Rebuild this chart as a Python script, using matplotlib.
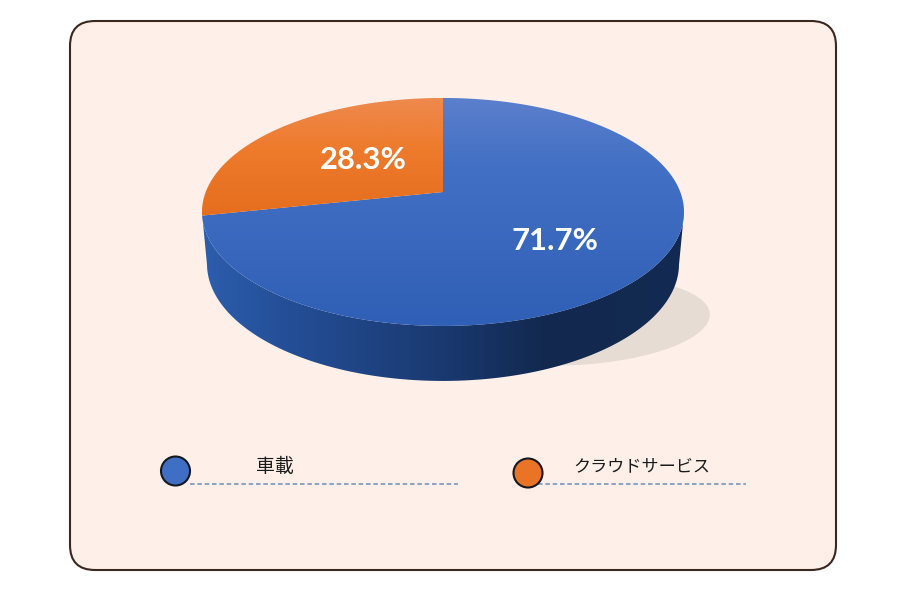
import numpy as np
import matplotlib
matplotlib.use('Agg')
import matplotlib.pyplot as plt
from matplotlib.colors import LinearSegmentedColormap
from matplotlib.patches import Circle, Ellipse, FancyBboxPatch, Polygon

# data
categories = ['車載', 'クラウドサービス']
shares = [71.7, 28.3]
share_labels = ['71.7%', '28.3%']
colors = ['#3f6fc4', '#e97425']

# layout in pixels
cx, cy, rx, ry = 443, 212, 241, 114
persp = 0.175
apex = -20
bottom_cy, bottom_rx, bottom_ry = 264, 236, 117


def project(t, cx, cy, rx, ry):
    # tilted disc seen in perspective, t runs clockwise from the far edge
    u, v = np.sin(t), np.cos(t)
    d = 1 + persp * v
    a = rx * np.sqrt(1 - persp ** 2)
    x = cx + a * u / d
    y = cy + (-ry * v + apex * ry / 114) / d
    return x, y


def gradient(ax, clip, stops, horizontal=False, zorder=2):
    cmap = LinearSegmentedColormap.from_list('g', stops)
    ramp = np.linspace(0, 1, 256)
    xmin, ymin = clip.get_xy().min(axis=0)
    xmax, ymax = clip.get_xy().max(axis=0)
    if horizontal:
        img = ramp[None, :]
    else:
        img = ramp[:, None]
    ax.add_patch(clip)
    im = ax.imshow(img, cmap=cmap, extent=(xmin, xmax, ymax, ymin), origin='upper',
                   aspect='auto', zorder=zorder, interpolation='bilinear')
    im.set_clip_path(clip)


fig = plt.figure(figsize=(9, 6), dpi=100, facecolor='white')
ax = fig.add_axes([0, 0, 1, 1])

# card
ax.add_patch(FancyBboxPatch((95, 46), 716, 499, boxstyle='round,pad=25,rounding_size=25',
                            facecolor='#fef0e9', edgecolor='#3a281e', linewidth=1.5, zorder=0))

# shadow
ax.add_patch(Ellipse((575, 321), 270, 88, angle=-3, facecolor='#e6dcd4', edgecolor='none', zorder=1))

# side wall
t = np.linspace(0, 2 * np.pi, 721)
tx, ty = project(t, cx, cy, rx, ry)
bx, by = project(t, cx, bottom_cy, bottom_rx, bottom_ry)
keep_top = ty >= cy
keep_bot = by >= bottom_cy
top_pts = np.column_stack([tx[keep_top], ty[keep_top]])
bot_pts = np.column_stack([bx[keep_bot], by[keep_bot]])
top_pts = top_pts[np.argsort(top_pts[:, 0])]
bot_pts = bot_pts[np.argsort(bot_pts[:, 0])][::-1]
wall = Polygon(np.vstack([top_pts, bot_pts]), closed=True, facecolor='none', edgecolor='none')
gradient(ax, wall, [(0, '#2c5dac'), (0.2, '#234d94'), (0.5, '#1a3970'), (0.72, '#12284e'), (1, '#132a52')],
         horizontal=True)

# top face, blue from 12 o'clock clockwise, then orange
start = 0.0
stops = [
    [(0, '#5b7fcc'), (0.3, '#4270c4'), (1, '#2f5fb6')],
    [(0, '#ee8a4d'), (0.45, '#ee7a2b'), (1, '#e56d1e')],
]
ends = np.cumsum(shares) / np.sum(shares) * 2 * np.pi
for end, st in zip(ends, stops):
    ang = np.linspace(start, end, 300)
    wx, wy = project(ang, cx, cy, rx, ry)
    pts = np.column_stack([np.r_[cx, wx], np.r_[cy + apex, wy]])
    wedge = Polygon(pts, closed=True, facecolor='none', edgecolor='none')
    gradient(ax, wedge, st, zorder=3)
    start = end

# value labels
label_pos = [(555, 241), (363, 160)]
for (lx, ly), s in zip(label_pos, share_labels):
    ax.text(lx, ly, s, color='white', fontsize=22.3, fontweight='bold', family='Lato',
            ha='center', va='center', zorder=5)

# legend
marker_pos = [(175.5, 471), (528, 473)]
line_span = [(190, 458), (538, 746)]
text_pos = [(275, 467), (642, 466)]
text_size = [13.6, 12.3]
for name, col, m, sp, tp, fs in zip(categories, colors, marker_pos, line_span, text_pos, text_size):
    ax.plot(sp, [483.5, 483.5], color='#6f8fb8', lw=1.1, dashes=(3, 1.8), zorder=2)
    ax.add_patch(Circle(m, 14.5, facecolor=col, edgecolor='#17171f', linewidth=1.5, zorder=3))
    ax.text(tp[0], tp[1], name, fontsize=fs, color='#1a1a1a', family=['Noto Sans CJK JP', 'DejaVu Sans'],
            ha='center', va='center', zorder=4)

ax.set_xlim(0, 900)
ax.set_ylim(600, 0)
ax.axis('off')

fig.savefig('out.png', dpi=100, facecolor='white')
